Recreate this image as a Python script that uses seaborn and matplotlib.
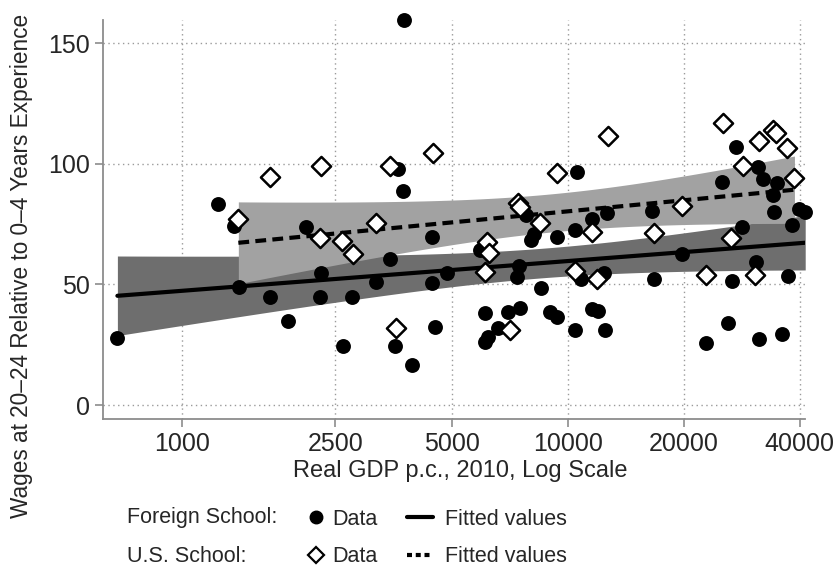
import numpy as np
import pandas as pd
import matplotlib
matplotlib.use("Agg")
import matplotlib.pyplot as plt
import seaborn as sns
from matplotlib.lines import Line2D

# real GDP per capita (2010 dollars) and relative wages
foreign_gdp = [680, 1242, 1366, 1408, 1691, 1887, 2094, 2279, 2290, 2620,
               2765, 3185, 3462, 3568, 3625, 3736, 3773, 3956, 4458, 4458,
               4530, 4860, 5930, 6110, 6230, 6110, 6610, 7020, 7520, 7500,
               7400, 7800, 8050, 8200, 8520, 9000, 9360, 9400, 10420, 10450,
               10560, 10860, 11550, 11580, 12000, 12400, 12500, 12680, 16530, 16700,
               19840, 22800, 25200, 26000, 26600, 27290, 28400, 30700, 31230, 31400,
               32180, 34030, 34200, 34850, 36000, 37200, 38120, 39700, 41300]
foreign_wage = [27.6, 83.2, 74.2, 49.0, 44.9, 34.9, 73.9, 44.6, 54.8, 24.5,
                44.9, 51.1, 60.4, 24.6, 97.7, 88.7, 159.6, 16.6, 69.7, 50.4,
                32.4, 54.6, 64.2, 38.0, 28.1, 26.2, 31.8, 38.7, 40.1, 57.8,
                53.0, 78.7, 68.6, 71.0, 48.4, 38.7, 36.6, 69.7, 72.5, 31.1,
                96.7, 52.1, 77.0, 39.7, 39.0, 54.8, 31.1, 79.4, 80.5, 52.1,
                62.6, 25.8, 92.3, 33.9, 51.4, 107.0, 73.9, 59.4, 98.5, 27.4,
                93.5, 87.0, 79.9, 91.9, 29.4, 53.5, 74.6, 81.2, 80.1]

us_gdp = [1400, 1691, 2279, 2293, 2605, 2782, 3185, 3462, 3583, 4469,
          6110, 6160, 6260, 7100, 7450, 7520, 8490, 9404, 10450, 11580,
          11900, 12710, 16700, 19840, 22800, 25240, 26500, 28450, 30600, 31420,
          34030, 34600, 37140, 38730]
us_wage = [77.1, 94.4, 69.1, 99.2, 68.1, 62.6, 75.5, 99.2, 31.8, 104.3,
           55.2, 67.7, 63.1, 31.1, 83.6, 82.2, 75.5, 96.0, 55.6, 71.8,
           52.1, 111.6, 71.2, 82.6, 53.9, 116.7, 69.1, 99.0, 53.9, 109.4,
           114.0, 112.7, 106.4, 94.0]

x_ticks = [1000, 2500, 5000, 10000, 20000, 40000]
y_ticks = [0, 50, 100, 150]


def lfitci(x, y, n=100):
    # linear fit on log GDP with 95% CI of the mean prediction
    lx = np.log(np.asarray(x, float))
    y = np.asarray(y, float)
    b, a = np.polyfit(lx, y, 1)
    df = len(y) - 2
    s = np.sqrt(np.sum((y - (a + b * lx)) ** 2) / df)
    sxx = np.sum((lx - lx.mean()) ** 2)
    t = 1.96 + 2.37 / df
    grid = np.linspace(lx.min(), lx.max(), n)
    fit = a + b * grid
    se = s * np.sqrt(1 / len(y) + (grid - lx.mean()) ** 2 / sxx)
    return pd.DataFrame({"gdp": np.exp(grid), "fit": fit,
                         "lo": fit - t * se, "hi": fit + t * se})


df_foreign = pd.DataFrame({"gdp": foreign_gdp, "wage": foreign_wage})
df_us = pd.DataFrame({"gdp": us_gdp, "wage": us_wage})
fit_foreign = lfitci(foreign_gdp, foreign_wage)
fit_us = lfitci(us_gdp, us_wage)

sns.set_style("white")
plt.rcParams["font.family"] = ["Liberation Sans", "DejaVu Sans"]

fig = plt.figure(figsize=(8.39, 5.72), dpi=100)
ax = fig.add_axes([103 / 839, 1 - 419 / 572, 702 / 839, 399 / 572])

ax.fill_between(fit_foreign["gdp"], fit_foreign["lo"], fit_foreign["hi"],
                color="#6e6e6e", lw=0, zorder=1)
ax.fill_between(fit_us["gdp"], fit_us["lo"], fit_us["hi"],
                color="#a2a2a2", lw=0, zorder=2)
sns.lineplot(data=fit_foreign, x="gdp", y="fit", color="black", lw=3, ax=ax, zorder=3)
sns.lineplot(data=fit_us, x="gdp", y="fit", color="black", lw=3, ax=ax, zorder=3,
             dashes=False, linestyle=(0, (2.6, 1.5)))
sns.scatterplot(data=df_foreign, x="gdp", y="wage", color="black", s=115,
                linewidth=0, marker="o", ax=ax, zorder=4, clip_on=False)
sns.scatterplot(data=df_us, x="gdp", y="wage", facecolor="white", edgecolor="black",
                s=95, linewidth=1.8, marker="D", ax=ax, zorder=4, clip_on=False)

ax.set_xscale("log")
ax.set_xlim(624, 41250)
ax.set_ylim(-5.8, 159.6)
ax.set_xticks(x_ticks)
ax.set_xticklabels([str(v) for v in x_ticks])
ax.minorticks_off()
ax.set_yticks(y_ticks)
ax.grid(True, linestyle=(0, (1, 2.5)), color="#9a9a9a", lw=1)
ax.tick_params(axis="both", direction="out", length=6, width=1.2, color="#8c8c8c",
               labelsize=18, pad=3.5, left=True, bottom=True)
for side in ["top", "right"]:
    ax.spines[side].set_visible(False)
for side in ["left", "bottom"]:
    ax.spines[side].set_color("#8c8c8c")
    ax.spines[side].set_linewidth(1.3)

ax.set_xlabel("Real GDP p.c., 2010, Log Scale", fontsize=17)
ax.set_ylabel("Wages at 20\u201324 Relative to 0\u20134 Years Experience", fontsize=16.3)
ax.xaxis.set_label_coords(0.5085, -0.102)
ax.yaxis.set_label_coords(-0.100, 0.383)

# Stata-style legend below the plot
fs = 15.5
fig.text(127 / 839, 1 - 518 / 572, "Foreign School:", fontsize=fs, va="center")
fig.text(127 / 839, 1 - 557 / 572, "U.S. School:", fontsize=fs, va="center")
mark_handles = [
    Line2D([], [], marker="o", color="black", ls="none", markersize=9),
    Line2D([], [], marker="D", mfc="white", mec="black", mew=1.6, ls="none", markersize=8),
]
line_handles = [
    Line2D([], [], color="black", lw=3),
    Line2D([], [], color="black", lw=3, linestyle=(0, (1.2, 0.9))),
]
leg1 = fig.legend(mark_handles, ["Data", "Data"], loc="center left",
                  bbox_to_anchor=(310 / 839, 1 - 538 / 572), frameon=False,
                  fontsize=fs, handlelength=0.6, handletextpad=0.45,
                  labelspacing=0.75, borderpad=0, borderaxespad=0)
leg2 = fig.legend(line_handles, ["Fitted values", "Fitted values"], loc="center left",
                  bbox_to_anchor=(407 / 839, 1 - 538 / 572), frameon=False,
                  fontsize=fs, handlelength=1.2, handletextpad=0.56,
                  labelspacing=0.75, borderpad=0, borderaxespad=0)

fig.savefig("out.png", dpi=100)
